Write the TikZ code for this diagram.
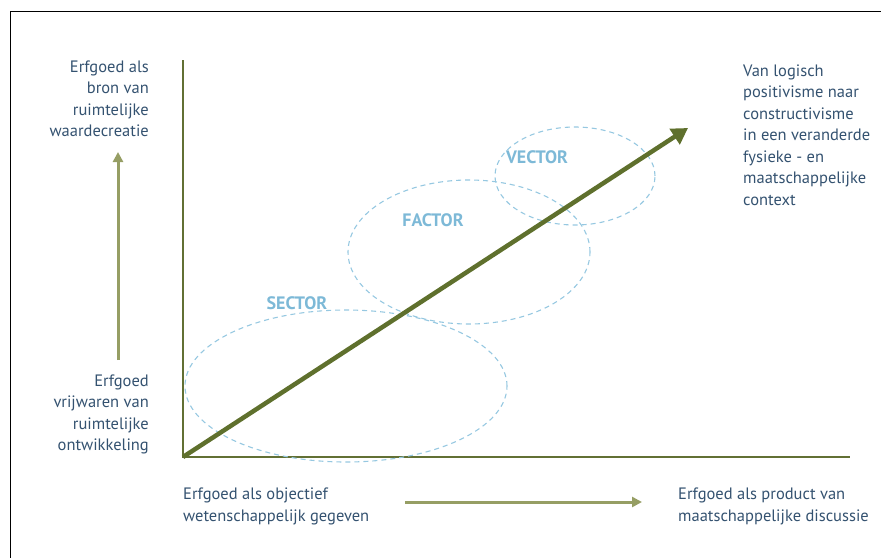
\documentclass[tikz,border=0pt]{standalone}
\usepackage{fontspec}
\setmainfont{PT Sans}
\usetikzlibrary{arrows.meta,shapes.geometric}
\definecolor{axisgreen}{RGB}{98,112,52}
\definecolor{arrowgreen}{RGB}{95,112,45}
\definecolor{khaki}{RGB}{150,158,100}
\definecolor{txtblue}{RGB}{52,82,112}
\definecolor{lblblue}{RGB}{125,185,215}
\definecolor{ellblue}{RGB}{150,200,225}
\begin{document}
\begin{tikzpicture}[x=1pt,y=-1pt,
    txt/.style = {text=txtblue, font=\fontsize{16.5}{21.5}\selectfont, inner sep=0pt},
    zone/.style = {draw=ellblue, dash pattern=on 5pt off 4pt, ellipse, line width=1.1pt, inner sep=0pt},
    zonetxt/.style = {text=lblblue, font=\fontsize{18}{18}\selectfont\bfseries, inner sep=0pt},
    axis/.style = {draw=axisgreen, line width=2.5pt},
    hint/.style = {draw=khaki, line width=3pt, -{Triangle[length=10pt,width=10pt]}}]
    \useasboundingbox (0,0) rectangle (881,558);
    % frame
    \draw[line width=1pt] (881,11) -- (10,11) -- (10,558);
    % axes
    \coordinate (origin) at (183,457);
    \coordinate (ytop) at (183,60);
    \coordinate (xend) at (850,457);
    \draw[axis] (ytop) -- (origin) -- (xend);
    % zones
    \node[zone, minimum width=322pt, minimum height=152pt] (sector) at (346,386) {};
    \node[zone, minimum width=242pt, minimum height=144pt] (factor) at (469,252) {};
    \node[zone, minimum width=160pt, minimum height=98pt] (vector) at (575,176) {};
    \node[zonetxt] (sectorlbl) at (297,303) {SECTOR};
    \node[zonetxt] (factorlbl) at (433,220) {FACTOR};
    \node[zonetxt] (vectorlbl) at (537,157) {VECTOR};
    % main arrow
    \coordinate (tip) at (688,128);
    \draw[arrowgreen, line width=4.5pt, -{Triangle[length=16pt,width=18pt]}] (origin) -- (tip);
    % labels left
    \node[txt, anchor=north east, align=right] (topleft) at (149,60.5)
        {Erfgoed als\\bron van\\ruimtelijke\\waardecreatie};
    \node[txt, anchor=north east, align=right] (botleft) at (149,374.5)
        {Erfgoed\\vrijwaren van\\ruimtelijke\\ontwikkeling};
    \coordinate (upfrom) at (118,360);
    \coordinate (upto) at (118,152);
    \draw[hint] (upfrom) -- (upto);
    % labels bottom
    \node[txt, anchor=north west, align=left] (botmid) at (183,488)
        {Erfgoed als objectief\\wetenschappelijk gegeven};
    \node[txt, anchor=north west, align=left] (botright) at (678,488)
        {Erfgoed als product van\\maatschappelijke discussie};
    \coordinate (rfrom) at (405,502);
    \coordinate (rto) at (642,502);
    \draw[hint] (rfrom) -- (rto);
    % label top right
    \node[txt, anchor=north west, align=left] (topright) at (743,64.5)
        {Van logisch\\positivisme naar\\constructivisme\\in een veranderde\\fysieke - en\\maatschappelijke\\context};
\end{tikzpicture}
\end{document}
